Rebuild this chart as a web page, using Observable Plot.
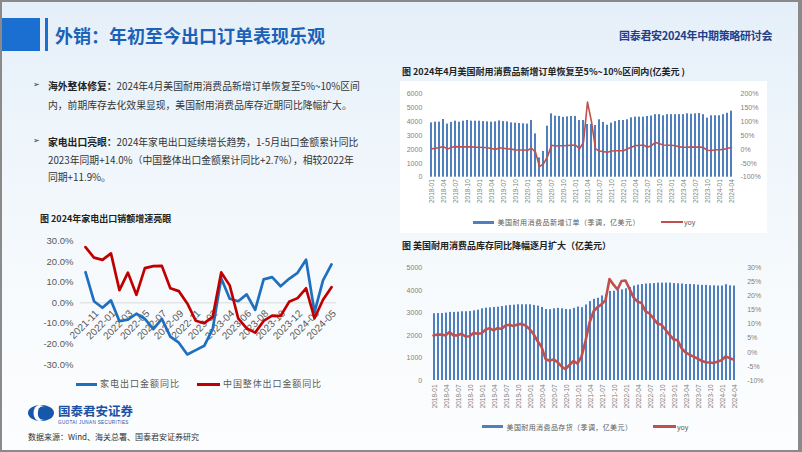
<!DOCTYPE html>
<html><head><meta charset="utf-8">
<script src="https://cdn.jsdelivr.net/npm/d3@7"></script>
<script src="https://cdn.jsdelivr.net/npm/@observablehq/plot@0.6"></script>
<style>
body{margin:0;background:#fff;}
#slide{position:relative;width:802px;height:452px;overflow:hidden;background:linear-gradient(180deg,#e5eff9 0%,#eef5fb 30%,#f8fbfd 70%,#fcfdfe 100%);font-family:"Noto Sans CJK SC",sans-serif;}
.abs{position:absolute;white-space:nowrap;}
.bl{font-size:9.8px;color:#333;line-height:12px;}
.bl b{color:#222;}
.ttl{font-size:9px;font-weight:bold;color:#222;line-height:12px;}
.lg{font-size:7px;color:#595959;line-height:10px;}
</style></head>
<body>
<div id="slide">
  <div class="abs" style="left:400px;top:81px;width:367px;height:152px;background:#fff;"></div>
  <div class="abs" style="left:0;top:18px;width:40px;height:33px;background:#1b6fd0;"></div>
  <div class="abs" style="left:45px;top:18px;width:3px;height:33px;background:#1b6fd0;"></div>
  <div class="abs" style="left:55px;top:23px;font-size:18px;font-weight:bold;color:#1a62b8;line-height:24px;">外销：年初至今出口订单表现乐观</div>
  <div class="abs" style="left:619px;top:28px;font-size:11px;font-weight:bold;color:#1f3f8a;line-height:14px;letter-spacing:-0.3px;">国泰君安2024年中期策略研讨会</div>

  <div class="abs" style="left:33px;top:80px;font-family:'DejaVu Sans';font-size:8px;color:#333;">➢</div>
  <div class="abs bl" style="left:48px;top:80px;"><b>海外整体修复：</b>2024年4月美国耐用消费品新增订单恢复至5%~10%区间</div>
  <div class="abs bl" style="left:48px;top:99px;">内，前期库存去化效果显现，美国耐用消费品库存近期同比降幅扩大。</div>
  <div class="abs" style="left:33px;top:136px;font-family:'DejaVu Sans';font-size:8px;color:#333;">➢</div>
  <div class="abs bl" style="left:48px;top:136px;"><b>家电出口亮眼：</b>2024年家电出口延续增长趋势，1-5月出口金额累计同比</div>
  <div class="abs bl" style="left:48px;top:153.5px;">2023年同期+14.0%（中国整体出口金额累计同比+2.7%），相较2022年</div>
  <div class="abs bl" style="left:48px;top:171px;">同期+11.9%。</div>

  <div class="abs ttl" style="left:40px;top:213px;">图 2024年家电出口销额增速亮眼</div>
  <div class="abs ttl" style="left:402px;top:66px;">图 2024年4月美国耐用消费品新增订单恢复至5%~10%区间内(亿美元 )</div>
  <div class="abs ttl" style="left:402px;top:240px;">图 美国耐用消费品库存同比降幅逐月扩大（亿美元）</div>

  <div class="abs" style="left:76px;top:382.5px;width:21px;height:3px;background:#1f6fc0;"></div>
  <div class="abs" style="left:100px;top:378px;font-size:9px;letter-spacing:1px;color:#595959;line-height:12px;">家电出口金额同比</div>
  <div class="abs" style="left:197px;top:382.5px;width:23px;height:3px;background:#c00000;"></div>
  <div class="abs" style="left:223px;top:378px;font-size:9px;letter-spacing:0.9px;color:#595959;line-height:12px;">中国整体出口金额同比</div>

  <div class="abs" style="left:473px;top:220.5px;width:21px;height:3px;background:#4f7fbf;"></div>
  <div class="abs lg" style="left:497.5px;top:217px;letter-spacing:0.5px;">美国耐用消费品新增订单（季调，亿美元）</div>
  <div class="abs" style="left:661px;top:221px;width:22px;height:1.6px;background:#c0504d;"></div>
  <div class="abs lg" style="left:684px;top:217px;">yoy</div>

  <div class="abs" style="left:482px;top:425px;width:21px;height:3px;background:#4f7fbf;"></div>
  <div class="abs lg" style="left:506.5px;top:421.5px;letter-spacing:0.4px;">美国耐用消费品存货（季调，亿美元）</div>
  <div class="abs" style="left:653px;top:425px;width:23px;height:2.6px;background:#c0504d;"></div>
  <div class="abs lg" style="left:677px;top:421.5px;">yoy</div>

  <svg class="abs" style="left:27px;top:404px;" width="28" height="18" viewBox="0 0 28 18">
    <ellipse cx="14" cy="9" rx="13" ry="8" fill="#1557aa"/>
    <ellipse cx="12.5" cy="9" rx="6" ry="8" fill="#fff"/>
    <ellipse cx="15" cy="9" rx="4.2" ry="6.6" fill="#1557aa"/>
  </svg>
  <div class="abs" style="left:58px;top:404px;font-size:12.5px;font-weight:bold;color:#1a52a8;line-height:13px;">国泰君安证券</div>
  <div class="abs" style="left:58px;top:419.5px;font-family:'Liberation Sans';font-size:4.6px;color:#1a52a8;letter-spacing:0.35px;line-height:5px;">GUOTAI JUNAN SECURITIES</div>
  <div class="abs" style="left:28px;top:431px;font-size:8px;color:#333;line-height:11px;">数据来源：Wind、海关总署、国泰君安证券研究</div>

  <div class="abs" style="left:0;top:0;width:802px;height:452px;box-sizing:border-box;border:2px solid #8a8a8a;border-right-width:4px;border-bottom-width:2px;pointer-events:none;"></div>
</div>
<script>
// ---- Left chart: 家电出口 vs 中国整体出口 (yoy, %) ----
const applianceYoY = [14.9, 0.8, -2.4, 1.2, -8.9, -8.2, -5.3, -7.8, -12.8, -7.8, -16.4, -19.4, -25.1, -23.0, -20.9, -12.6, 12.0, 2.0, 0.8, 4.1, -3.4, 11.4, 12.5, 8.1, 11.7, 14.6, 21.0, -4.5, 10.9, 18.7];
const chinaYoY = [27.1, 22.0, 20.9, 24.1, 6.2, 14.7, 3.9, 16.9, 17.9, 18.0, 7.1, 5.7, -0.3, -8.7, -9.9, -6.8, 14.8, 8.5, -7.5, -12.4, -14.5, -8.8, -6.2, -6.4, 0.5, 2.3, 7.1, -7.5, 1.5, 7.6];
const leftTickIndex = [1, 3, 5, 7, 9, 11, 13, 15, 17, 19, 21, 23, 25, 27, 29];
const leftTickText = ["2021-11", "2022-01", "2022-03", "2022-05", "2022-07", "2022-09", "2022-11", "2023-02", "2023-04", "2023-06", "2023-08", "2023-10", "2023-12", "2024-03", "2024-05"];
const leftYTicks = [-30, -20, -10, 0, 10, 20, 30];

// ---- Right charts: monthly 2018-01 .. 2024-04 ----
const months = [];
for (let y = 2018; y <= 2024; y++) for (let m = 1; m <= 12; m++) { if (y === 2024 && m > 4) break; months.push(y + "-" + String(m).padStart(2, "0")); }
const monthTicks = months.filter((d, i) => i % 3 === 0);

const newOrders = [3910, 3960, 3960, 4150, 3820, 3940, 4030, 3960, 4030, 4080, 4030, 4030,
  4030, 4000, 3980, 3960, 3980, 4050, 4000, 3980, 3910, 3890, 3860, 3840,
  3820, 4080, 3120, 1390, 1850, 3670, 4560, 4390, 4370, 4300, 4340, 4370,
  4370, 4080, 4080, 3790, 3800, 3720, 4130, 3940, 3740, 3890, 4000, 4080,
  4080, 4130, 4270, 4320, 4320, 4320, 4370, 4400, 4500, 4500, 4420, 4500,
  4500, 4500, 4500, 4500, 4560, 4530, 4560, 4580, 4500, 4250, 4420, 4420,
  4420, 4500, 4600, 4750];
const newOrdersYoY = [2, 4, 7, 10, 1, 8, 10, 9, 9, 9, 9, 8,
  8, 7, 6, 3, 0, 6, 4, 2, 1, -2, -2, -2,
  -3, 4, -10, -62, -52, -26, 15, 12, 13, 13, 14, 15,
  16, 2, 26, 170, 100, 2, -6, -8, -10, -6, -5, -5,
  -5, 2, 8, 14, 14, 16, 8, 14, 25, 20, 16, 15,
  15, 13, 9, 8, 8, 9, 8, 9, 6, -3, -4, -1,
  -1, 0, 4, 7];
const ordersTicks = [0, 1000, 2000, 3000, 4000, 5000, 6000];
const ordersYoYTicks = [-100, -50, 0, 50, 100, 150, 200];

const inventory = [2960, 2970, 2970, 2990, 3020, 3020, 3030, 3050, 3050, 3060, 3090, 3120,
  3180, 3210, 3220, 3240, 3250, 3280, 3310, 3330, 3340, 3360, 3360, 3360,
  3360, 3330, 3300, 3240, 3150, 3140, 3180, 3200, 3180, 3150, 3140, 3200,
  3260, 3230, 3350, 3500, 3600, 3650, 3750, 3800, 3950, 3960, 4000, 4020,
  4070, 4130, 4190, 4230, 4260, 4280, 4290, 4300, 4320, 4320, 4320, 4320,
  4300, 4290, 4280, 4260, 4260, 4250, 4230, 4220, 4220, 4200, 4200, 4190,
  4190, 4250, 4200, 4190];
const inventoryYoY = [6.0, 6.3, 6.3, 6.0, 7.2, 6.0, 6.0, 6.6, 5.6, 5.7, 6.9, 6.6,
  6.8, 8.0, 8.6, 7.8, 8.6, 8.3, 9.5, 9.8, 9.3, 9.9, 10.1, 9.5,
  8.3, 6.5, 4.0, 2.0, -2.3, -3.0, -2.5, -3.5, -5.0, -6.0, -4.5, -3.0,
  -4.0, -1.5, 4.0, 10.5, 14.5, 16.0, 17.0, 18.5, 26.0, 24.0, 22.3, 25.3,
  25.5, 22.5, 19.5, 18.0, 17.5, 14.5, 13.8, 12.0, 10.2, 9.8, 8.0, 6.3,
  4.6, 4.3, 1.5, 0.0, -0.8, -1.5, -2.2, -3.0, -3.5, -3.6, -3.8, -3.3,
  -2.8, -1.5, -2.0, -2.6];
const invTicks = [0, 1000, 2000, 3000, 4000, 5000];
const invYoYTicks = [-10, -5, 0, 5, 10, 15, 20, 25, 30];

const slide = document.getElementById("slide");
function place(node, left, top) {
  node.style.position = "absolute"; node.style.left = left + "px"; node.style.top = top + "px";
  slide.appendChild(node);
}

// Left chart
const leftSvg = Plot.plot({
  width: 345, height: 150, marginTop: 10.7, marginBottom: 16, marginLeft: 85, marginRight: 14,
  style: {background: "transparent", overflow: "visible", fontFamily: "Liberation Sans, sans-serif"},
  x: {domain: [0, applianceYoY.length - 1], axis: null},
  y: {domain: [-30, 30]},
  marks: [
    Plot.ruleY([0], {x1: -0.6, x2: applianceYoY.length - 0.4, stroke: "#d9d9d9", strokeWidth: 1}),
    Plot.axisY({ticks: leftYTicks, tickSize: 0, tickPadding: 12, fontSize: 9.5, fill: "#595959", label: null, tickFormat: d => d.toFixed(1) + "%"}),
    Plot.text(leftTickIndex, {x: d => d, y: () => 0, text: (d, i) => leftTickText[i], rotate: -45, textAnchor: "end", dx: 3, dy: 9, fontSize: 10, fill: "#595959"}),
    Plot.lineY(applianceYoY, {x: (d, i) => i, y: d => d, stroke: "#1f6fc0", strokeWidth: 2.7}),
    Plot.lineY(chinaYoY, {x: (d, i) => i, y: d => d, stroke: "#c00000", strokeWidth: 2.7})
  ]
});
place(leftSvg, 0, 230);

function dual({left, top, width, height, mt, mb, ml, mr, bars, yoy, yDom, yTicks, rDom, rTicks, padIn, lineW, padL, padR, padX}) {
  const common = {width, height, marginTop: mt, marginBottom: mb, marginLeft: ml, marginRight: mr,
    style: {background: "transparent", overflow: "visible", fontFamily: "Liberation Sans, sans-serif"}};
  const barSvg = Plot.plot({
    ...common,
    x: {type: "band", domain: months, paddingInner: padIn, paddingOuter: padIn / 2},
    y: {domain: yDom},
    marks: [
      Plot.barY(bars, {x: months, y: d => d, fill: "#4f7fbf"}),
      Plot.axisX({ticks: monthTicks, tickRotate: -90, tickSize: 0, tickPadding: padX, fontSize: 6.5, fill: "#7f7f7f", label: null}),
      Plot.axisY({ticks: yTicks, tickSize: 0, tickPadding: padL, fontSize: 7, fill: "#7f7f7f", label: null, tickFormat: d => String(d)})
    ]
  });
  const lineSvg = Plot.plot({
    ...common,
    x: {type: "point", domain: months, padding: 0.5, axis: null},
    y: {domain: rDom, axis: null},
    marks: [
      Plot.lineY(yoy, {x: months, y: d => d, stroke: "#c0504d", strokeWidth: lineW}),
      Plot.axisY({anchor: "right", ticks: rTicks, tickSize: 0, tickPadding: padR, fontSize: 7, fill: "#7f7f7f", label: null, tickFormat: d => d + "%"})
    ]
  });
  place(barSvg, left, top);
  place(lineSvg, left, top);
}

dual({left: 400, top: 85, width: 370, height: 135, mt: 8.3, mb: 43.3, ml: 27.3, mr: 35.7,
  bars: newOrders, yoy: newOrdersYoY, yDom: [0, 6000], yTicks: ordersTicks, rDom: [-100, 200], rTicks: ordersYoYTicks,
  padIn: 0.58, lineW: 1.6, padL: 5.5, padR: 5.7, padX: 2});
dual({left: 400, top: 255, width: 380, height: 160, mt: 12.3, mb: 35, ml: 27.2, mr: 40.6,
  bars: inventory, yoy: inventoryYoY, yDom: [0, 5000], yTicks: invTicks, rDom: [-10, 30], rTicks: invYoYTicks,
  padIn: 0.62, lineW: 2.6, padL: 5.5, padR: 7.3, padX: 4});
</script>
</body></html>
